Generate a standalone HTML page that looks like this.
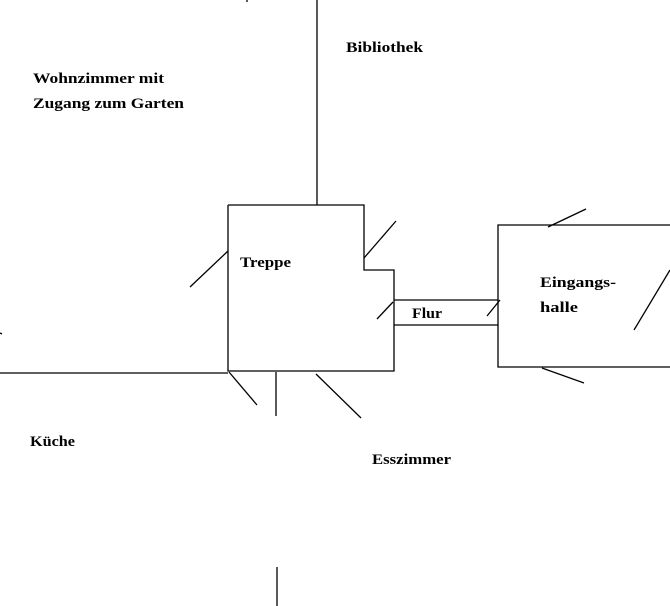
<!DOCTYPE html>
<html><head><meta charset="utf-8"><style>html,body{margin:0;padding:0;background:#fff;}svg{display:block}</style></head>
<body>
<svg width="670" height="606" viewBox="0 0 670 606" xmlns="http://www.w3.org/2000/svg">
<g stroke="#000" stroke-width="1.3" fill="none">
<line x1="317" y1="0" x2="317" y2="205"/>
<line x1="247" y1="0" x2="247" y2="2"/>
<polyline points="228,205 364,205 364,270 394,270 394,371 228,371 228,205"/>
<line x1="0" y1="373" x2="228" y2="373"/>
<line x1="0" y1="333" x2="2" y2="334"/>
<line x1="190" y1="287" x2="228" y2="251"/>
<line x1="364" y1="258" x2="396" y2="221"/>
<line x1="377" y1="319" x2="393" y2="302"/>
<line x1="229" y1="372" x2="257" y2="405"/>
<line x1="276" y1="372" x2="276" y2="416"/>
<line x1="316" y1="374" x2="361" y2="418"/>
<line x1="394" y1="300" x2="498" y2="300"/>
<line x1="394" y1="325" x2="498" y2="325"/>
<polyline points="670,225 498,225 498,367 670,367"/>
<line x1="548" y1="227" x2="586" y2="209"/>
<line x1="487" y1="316" x2="500" y2="300"/>
<line x1="634" y1="330" x2="670" y2="270"/>
<line x1="542" y1="368" x2="584" y2="383"/>
<line x1="277" y1="567" x2="277" y2="606"/>
</g>
<g font-family="Liberation Serif, serif" font-weight="bold" font-size="15" fill="#000">
<text x="346" y="52" textLength="77" lengthAdjust="spacingAndGlyphs">Bibliothek</text>
<text x="33" y="83" textLength="131" lengthAdjust="spacingAndGlyphs">Wohnzimmer mit</text>
<text x="33" y="108" textLength="151" lengthAdjust="spacingAndGlyphs">Zugang zum Garten</text>
<text x="240" y="267" textLength="51" lengthAdjust="spacingAndGlyphs">Treppe</text>
<text x="412" y="318" textLength="30" lengthAdjust="spacingAndGlyphs">Flur</text>
<text x="540" y="287" textLength="76" lengthAdjust="spacingAndGlyphs">Eingangs-</text>
<text x="540" y="312" textLength="38" lengthAdjust="spacingAndGlyphs">halle</text>
<text x="30" y="446" textLength="45" lengthAdjust="spacingAndGlyphs">Küche</text>
<text x="372" y="464" textLength="79" lengthAdjust="spacingAndGlyphs">Esszimmer</text>
</g>
</svg>
</body></html>
